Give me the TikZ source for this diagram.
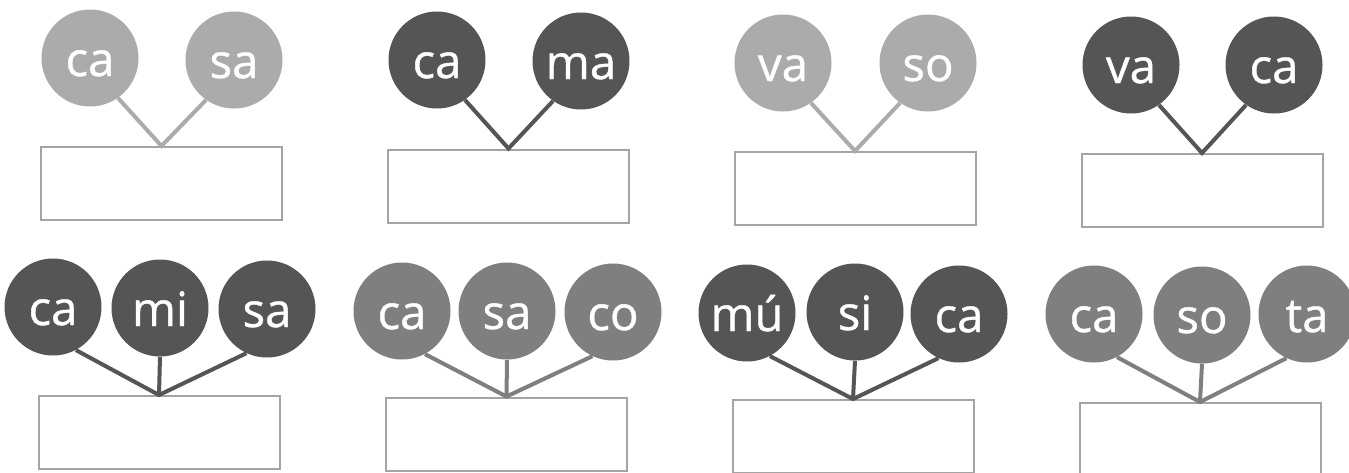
\documentclass[tikz,border=0pt]{standalone}
\usepackage{fontspec}
\setmainfont{Open Sans}[FakeBold=0.8]
\definecolor{clight}{HTML}{ABABAB}
\definecolor{cmid}{HTML}{7F7F7F}
\definecolor{cdark}{HTML}{555555}
\definecolor{cbox}{HTML}{A4A4A4}
\tikzset{
  syl/.style={circle, minimum size=72.75pt, inner sep=0pt, text=white,
    font=\fontsize{35.5}{35.5}\selectfont, text height=27pt, text depth=0pt},
  ans/.style={draw=cbox, line width=1.5pt, minimum width=180.75pt,
    minimum height=54.75pt, inner sep=0pt},
  conn/.style={line width=3pt, draw=#1}
}
\begin{document}
\begin{tikzpicture}[x=0.75pt, y=-0.75pt]
\useasboundingbox (0,0) rectangle (1349,472);
\begin{scope}
\clip (0,0) rectangle (1349,472);
% ---------- top row ----------
\node[syl, fill=clight] (a1) at (90,58) {ca};
\node[syl, fill=clight] (a2) at (234,60) {sa};
\node[ans] (ra) at (161.5,183.5) {};
\draw[conn=clight] (a1.-55) -- (ra.north) -- (a2.-125);

\node[syl, fill=cdark] (b1) at (437,60) {ca};
\node[syl, fill=cdark] (b2) at (581,61) {ma};
\node[ans] (rb) at (508.5,186) {};
\draw[conn=cdark] (b1.-55) -- (rb.north) -- (b2.-125);

\node[syl, fill=clight] (c1) at (783,63) {va};
\node[syl, fill=clight] (c2) at (928,63) {so};
\node[ans] (rc) at (855,188.5) {};
\draw[conn=clight] (c1.-55) -- (rc.north) -- (c2.-125);

\node[syl, fill=cdark] (d1) at (1131,65) {va};
\node[syl, fill=cdark] (d2) at (1274,65) {ca};
\node[ans] (rd) at (1202,190.5) {};
\draw[conn=cdark] (d1.-55) -- (rd.north) -- (d2.-125);

% ---------- bottom row ----------
\node[syl, fill=cdark] (e1) at (53,307) {ca};
\node[syl, fill=cdark] (e2) at (160,308) {mi};
\node[syl, fill=cdark] (e3) at (267,309) {sa};
\node[ans] (re) at (159,432.5) {};
\draw[conn=cdark] (e1.-62) -- (re.north) -- (e3.-115);
\draw[conn=cdark] (e2.south) -- (re.north);

\node[syl, fill=cmid] (f1) at (402,311) {ca};
\node[syl, fill=cmid] (f2) at (507,311) {sa};
\node[syl, fill=cmid] (f3) at (613,312) {co};
\node[ans] (rf) at (506.5,434) {};
\draw[conn=cmid] (f1.-62) -- (rf.north) -- (f3.-115);
\draw[conn=cmid] (f2.south) -- (rf.north);

\node[syl, fill=cdark] (g1) at (747,313) {mú};
\node[syl, fill=cdark] (g2) at (855,312) {si};
\node[syl, fill=cdark] (g3) at (959,314) {ca};
\node[ans] (rg) at (853,436.5) {};
\draw[conn=cdark] (g1.-62) -- (rg.north) -- (g3.-115);
\draw[conn=cdark] (g2.south) -- (rg.north);

\node[syl, fill=cmid] (h1) at (1094,314) {ca};
\node[syl, fill=cmid] (h2) at (1202,315) {so};
\node[syl, fill=cmid] (h3) at (1307,314) {ta};
\node[ans] (rh) at (1200,439.5) {};
\draw[conn=cmid] (h1.-62) -- (rh.north) -- (h3.-115);
\draw[conn=cmid] (h2.south) -- (rh.north);
\end{scope}
\end{tikzpicture}
\end{document}
